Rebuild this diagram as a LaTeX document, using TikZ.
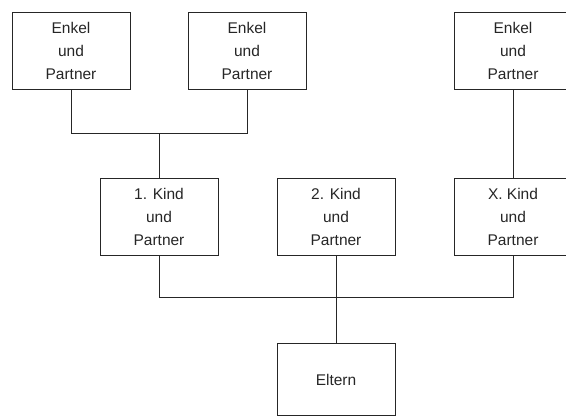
\documentclass[tikz,border=0pt]{standalone}
\usepackage{fontspec}
\setmainfont{Liberation Sans}
\usetikzlibrary{positioning}

\begin{document}
\begin{tikzpicture}[node distance=2cm,on grid,
   box/.style={draw=black!85,line width=1pt,minimum width=118pt,minimum height=77pt,
     inner sep=0pt,align=center,text=black!85,font=\fontsize{15.5}{23}\selectfont},
   link/.style={draw=black!85,line width=1pt}]
   \useasboundingbox (0,0) rectangle (566pt,-416pt);
   \clip (0,0) rectangle (566pt,-416pt);
   \node[box] (kind1) at (159pt,-216.5pt) {1. Kind\\und\\Partner};
   \node[box] (kind2) [right=177pt of kind1] {2. Kind\\und\\Partner};
   \node[box] (kindx) [right=177pt of kind2] {X. Kind\\und\\Partner};
   \node[box] (enkel1) [above left=165.5pt and 88pt of kind1] {Enkel\\und\\Partner};
   \node[box] (enkel2) [above right=165.5pt and 88pt of kind1] {Enkel\\und\\Partner};
   \node[box] (enkel3) [above=165.5pt of kindx] {Enkel\\und\\Partner};
   \node[box,minimum height=72pt] (eltern) [below=163pt of kind2] {Eltern};
   \coordinate[above=44pt of kind1.north] (top);
   \coordinate[below=42pt of kind2.south] (bottom);
    \path[link]
    (enkel1.south) |- (top) -| (enkel2.south)
    (top) -- (kind1.north)
    (enkel3.south) -- (kindx.north)
    (kind1.south) |- (bottom) -| (kindx.south)
    (kind2.south) -- (eltern.north);
\end{tikzpicture}
\end{document}
